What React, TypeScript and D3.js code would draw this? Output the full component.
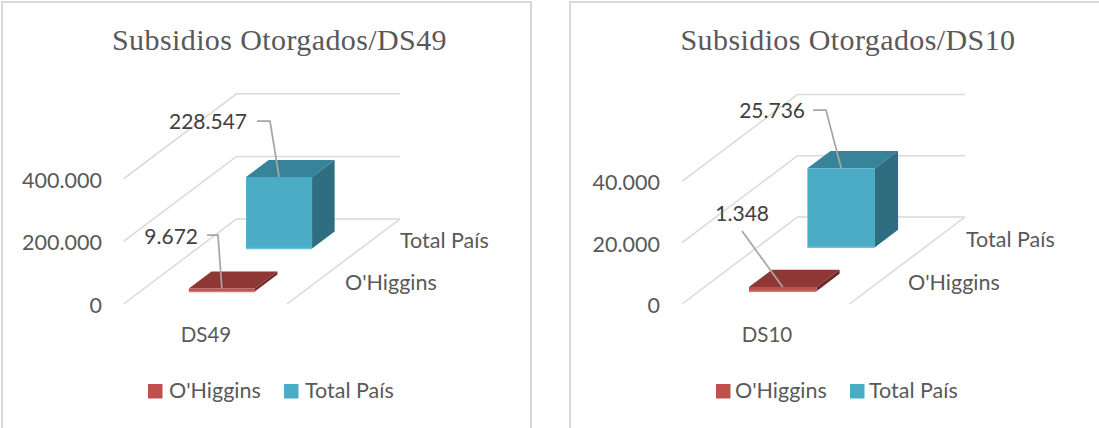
import React from "react";
import * as d3 from "d3";

// ---- data ----
const seriesNames = ["O'Higgins", "Total País"];
const titles = ["Subsidios Otorgados/DS49", "Subsidios Otorgados/DS10"];
const categories = ["DS49", "DS10"];
const ds49Values = [9672, 228547];
const ds10Values = [1348, 25736];
const ds49Ticks = [0, 200000, 400000];
const ds10Ticks = [0, 20000, 40000];

const fmt = d3.formatLocale({ decimal: ",", thousands: ".", grouping: [3], currency: ["$", ""] }).format(",d");

const FRONT = ["#C0504D", "#4BACC6"];
const TOP = ["#8E3735", "#37849A"];
const SIDE = ["#6F2B29", "#2F6E80"];
const EDGE = ["#E0706C", "#6CC4DA"];
const GRID = "#D9D9D9";
const TXT = "#595959";
const LBL = "#404040";
const SANS = "Lato, Carlito, sans-serif";
const SERIF = "'Liberation Serif', serif";

type Layout = {
  frame: [number, number, number, number];
  titleX: number;
  plane: { x0: number; x1: number; y0: number; step: number; dx: number; dy: number };
  tickX: number;
  catPos: [number, number];
  serPos: [number, number][];
  labels: { x: number; y: number; elbow: [number, number][] }[];
  legend: { sw: number; tx: number }[];
};

function Panel({ title, category, values, ticks, layout }: { title: string; category: string; values: number[]; ticks: number[]; layout: Layout }) {
  const { plane: p } = layout;
  const yScale = d3.scaleLinear().domain([ticks[0], ticks[ticks.length - 1]]).range([p.y0, p.y0 - p.step * (ticks.length - 1)]);
  const xBand = d3.scaleBand<string>().domain([category]).range([p.x0, p.x1]).padding(0.425);
  const zBand = d3.scaleBand<string>().domain(seriesNames).range([0, 1]).paddingInner(0.605).paddingOuter(0.29);
  const proj = (x: number, v: number, z: number): [number, number] => [x + z * p.dx, yScale(v) - z * p.dy];
  const line = d3.line();
  const poly = (pts: [number, number][]) => line(pts)! + "Z";
  const bars = seriesNames.map((s, i) => {
    const x0 = xBand(category)!, x1 = x0 + xBand.bandwidth();
    const z0 = zBand(s)!, z1 = z0 + zBand.bandwidth();
    const v = values[i];
    return {
      i,
      front: poly([proj(x0, v, z0), proj(x1, v, z0), proj(x1, 0, z0), proj(x0, 0, z0)]),
      top: poly([proj(x0, v, z0), proj(x1, v, z0), proj(x1, v, z1), proj(x0, v, z1)]),
      side: poly([proj(x1, v, z0), proj(x1, v, z1), proj(x1, 0, z1), proj(x1, 0, z0)]),
      edge: line([proj(x0, 0, z0), proj(x1, 0, z0)])!,
      anchor: proj((x0 + x1) / 2, v, z0),
    };
  });
  const [fx, fy, fw, fh] = layout.frame;
  return (
    <g>
      <rect x={fx} y={fy} width={fw} height={fh} fill="#fff" stroke={GRID} strokeWidth={2} />
      <text x={layout.titleX} y={50} textAnchor="middle" fontFamily={SERIF} fontSize={30} fill={TXT} letterSpacing={0.4}>{title}</text>
      {ticks.map((t) => (
        <g key={t}>
          <path d={line([proj(p.x0, t, 0), proj(p.x0, t, 1), proj(p.x1, t, 1)])!} fill="none" stroke={GRID} strokeWidth={1.5} />
          <text x={layout.tickX} y={yScale(t) + 9} textAnchor="end" fontFamily={SANS} fontSize={21.5} fill={TXT}>{fmt(t)}</text>
        </g>
      ))}
      <path d={line([proj(p.x1, 0, 0), proj(p.x1, 0, 1)])!} fill="none" stroke={GRID} strokeWidth={1.5} />
      {[...bars].reverse().map((b) => (
        <g key={b.i}>
          <path d={b.top} fill={TOP[b.i]} />
          <path d={b.side} fill={SIDE[b.i]} />
          <path d={b.front} fill={FRONT[b.i]} />
          <path d={b.edge} stroke={EDGE[b.i]} strokeWidth={1.5} fill="none" />
        </g>
      ))}
      {layout.labels.map((l, i) => (
        <g key={i}>
          <path d={line([...l.elbow, bars[i].anchor])!} fill="none" stroke="#A6A6A6" strokeWidth={1.75} />
          <text x={l.x} y={l.y} textAnchor="end" fontFamily={SANS} fontSize={21} fill={LBL}>{fmt(values[i])}</text>
        </g>
      ))}
      <text x={layout.catPos[0]} y={layout.catPos[1]} textAnchor="middle" fontFamily={SANS} fontSize={20.5} fill={TXT}>{category}</text>
      {seriesNames.map((s, i) => (
        <text key={s} x={layout.serPos[i][0]} y={layout.serPos[i][1]} fontFamily={SANS} fontSize={21.5} fill={TXT}>{s}</text>
      ))}
      {seriesNames.map((s, i) => (
        <g key={s}>
          <rect x={layout.legend[i].sw} y={384} width={14.5} height={14.5} fill={FRONT[i]} />
          <text x={layout.legend[i].tx} y={398} fontFamily={SANS} fontSize={21.5} fill={TXT}>{s}</text>
        </g>
      ))}
    </g>
  );
}

const layouts: Layout[] = [
  {
    frame: [2, 2, 529, 440],
    titleX: 279.5,
    plane: { x0: 123.5, x1: 287, y0: 304, step: 62.6, dx: 113, dy: 85 },
    tickX: 102,
    catPos: [206, 342],
    serPos: [[345, 290], [400, 248]],
    labels: [
      { x: 198, y: 244, elbow: [[207, 235], [218, 235]] },
      { x: 247, y: 129, elbow: [[257, 121], [270, 121]] },
    ],
    legend: [{ sw: 148, tx: 169 }, { sw: 284, tx: 305 }],
  },
  {
    frame: [570, 2, 560, 440],
    titleX: 848,
    plane: { x0: 682, x1: 849.5, y0: 304, step: 61.3, dx: 115.5, dy: 87 },
    tickX: 660,
    catPos: [767, 342],
    serPos: [[908, 290], [966, 247]],
    labels: [
      { x: 769, y: 221, elbow: [[742, 231]] },
      { x: 805, y: 118, elbow: [[813, 110], [826, 110]] },
    ],
    legend: [{ sw: 716, tx: 735 }, { sw: 850, tx: 869 }],
  },
];

export default function App() {
  return (
    <svg width={1099} height={428} viewBox="0 0 1099 428" style={{ position: "fixed", left: 0, top: 0, background: "#fff" }}>
      <Panel title={titles[0]} category={categories[0]} values={ds49Values} ticks={ds49Ticks} layout={layouts[0]} />
      <Panel title={titles[1]} category={categories[1]} values={ds10Values} ticks={ds10Ticks} layout={layouts[1]} />
    </svg>
  );
}
